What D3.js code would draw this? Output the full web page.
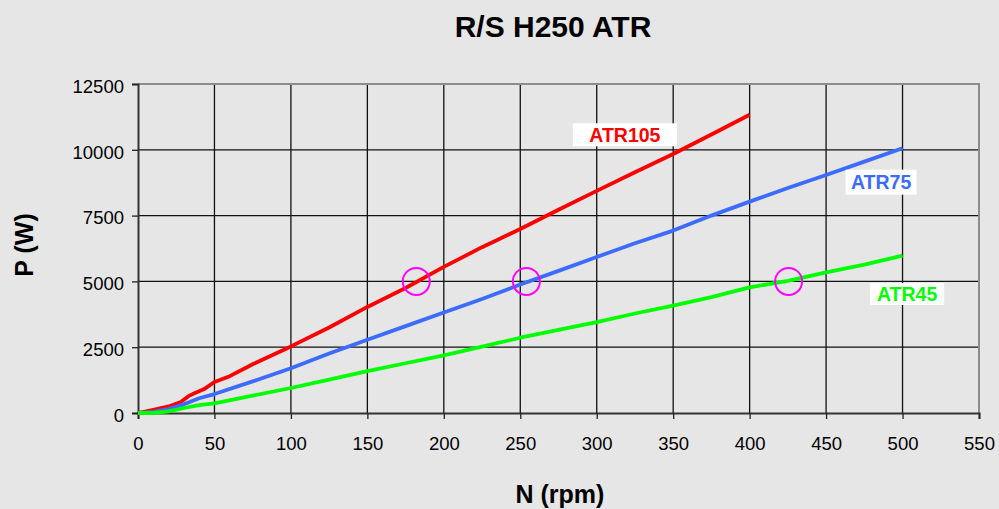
<!DOCTYPE html>
<html>
<head>
<meta charset="utf-8">
<script src="https://cdn.jsdelivr.net/npm/d3@7"></script>
<style>
  html, body { margin: 0; padding: 0; background: #e6e6e6; }
  #chart { width: 999px; height: 509px; }
  text { font-family: "Liberation Sans", Arial, sans-serif; }
</style>
</head>
<body>
<div id="chart"></div>
<script>
//Datos
const rpmTicks = [0, 50, 100, 150, 200, 250, 300, 350, 400, 450, 500, 550];
const powerTicks = [0, 2500, 5000, 7500, 10000, 12500];

const atr105 = [[0, 0], [10, 120], [20, 250], [28, 420], [33, 640], [38, 780], [43, 900], [50, 1180], [60, 1400], [75, 1850], [100, 2530], [125, 3250], [150, 4030], [175, 4750], [200, 5550], [225, 6300], [250, 6990], [275, 7720], [300, 8440], [325, 9150], [350, 9840], [375, 10580], [400, 11330]];
const atr75 = [[0, 0], [10, 40], [20, 150], [30, 330], [40, 560], [50, 720], [75, 1200], [100, 1700], [125, 2260], [150, 2780], [175, 3300], [200, 3820], [225, 4330], [250, 4880], [275, 5400], [300, 5930], [325, 6450], [350, 6930], [375, 7500], [400, 8030], [425, 8550], [450, 9040], [475, 9550], [500, 10060]];
const atr45 = [[0, 0], [10, 0], [20, 60], [30, 190], [40, 300], [50, 370], [75, 660], [100, 950], [125, 1270], [150, 1590], [175, 1890], [200, 2190], [225, 2520], [250, 2860], [275, 3160], [300, 3450], [325, 3780], [350, 4080], [375, 4400], [400, 4775], [425, 5020], [450, 5345], [475, 5640], [500, 5980]];

const seriesNames = ['ATR105', 'ATR75', 'ATR45'];
const seriesData = [atr105, atr75, atr45];

//Puntos marcados a 5000 W
const markRpm = [182, 254, 425.5];
const markPower = [5000, 5000, 5000];

//Colores fijos
const COLOR_105 = '#ff0000',
COLOR_75 = '#3c6cff',
COLOR_45 = '#00ff00',
COLOR_MARK = '#ff00ff';

const colors = [COLOR_105, COLOR_75, COLOR_45];

let margin = {top: 84, left: 138},
    width = 979 - margin.left,
    height = 413 - margin.top;

let svg = d3.select('#chart')
    .append('svg')
        .attr('width', 999)
        .attr('height', 509)
    .append('g')
        .attr('transform', 'translate(' + margin.left + ',' + margin.top + ')');

let x = d3.scaleLinear()
    .domain([0, 550])
    .range([0, width]);

let y = d3.scaleLinear()
    .domain([0, 12500])
    .range([height, 0]);

//Rejilla
svg.append('g')
    .selectAll('line')
    .data(rpmTicks.slice(1, -1))
    .enter()
    .append('line')
    .attr('x1', d => x(d)).attr('x2', d => x(d))
    .attr('y1', 0).attr('y2', height)
    .attr('stroke', '#111').attr('stroke-width', 1.3);

svg.append('g')
    .selectAll('line')
    .data(powerTicks.slice(1, -1))
    .enter()
    .append('line')
    .attr('x1', 0).attr('x2', width)
    .attr('y1', d => y(d)).attr('y2', d => y(d))
    .attr('stroke', '#111').attr('stroke-width', 1.3);

//Borde superior y derecho
svg.append('path')
    .attr('d', 'M0,' + y(12500) + 'H' + x(550) + 'V' + y(0))
    .attr('fill', 'none')
    .attr('stroke', '#8c8c8c')
    .attr('stroke-width', 2);

//Ejes
let xAxis = svg.append('g')
    .attr('transform', 'translate(0,' + height + ')')
    .call(d3.axisBottom(x).tickValues(rpmTicks).tickSize(6).tickPadding(18).tickFormat(d3.format('d')));

let yAxis = svg.append('g')
    .call(d3.axisLeft(y).tickValues(powerTicks).tickSize(6).tickPadding(8).tickFormat(d3.format('d')));

[xAxis, yAxis].forEach(function(a) {
    a.select('.domain').attr('stroke', '#333').attr('stroke-width', 2);
    a.selectAll('.tick line').attr('stroke', '#222').attr('stroke-width', 1.3);
    a.selectAll('.tick text').attr('fill', '#000').style('font-size', '18.5px');
});
yAxis.selectAll('.tick text').attr('dy', '0.45em');

//Curvas
let line = d3.line()
    .x(d => x(d[0]))
    .y(d => y(d[1]))
    .curve(d3.curveLinear);

svg.append('g')
    .selectAll('path')
    .data(seriesData)
    .enter()
    .append('path')
    .attr('d', d => line(d))
    .attr('fill', 'none')
    .attr('stroke', (d, i) => colors[i])
    .attr('stroke-width', 3.8)
    .attr('stroke-linejoin', 'round');

//Círculos
svg.append('g')
    .selectAll('circle')
    .data(markRpm)
    .enter()
    .append('circle')
    .attr('cx', d => x(d))
    .attr('cy', (d, i) => y(markPower[i]))
    .attr('r', 13.5)
    .attr('fill', 'none')
    .attr('stroke', COLOR_MARK)
    .attr('stroke-width', 2);

//Etiquetas de las series
let labelPos = [[318.4, 10570, 104, 23], [486, 8770, 71, 25], [503, 4520, 74, 22]];

let labels = svg.append('g')
    .selectAll('g')
    .data(seriesNames)
    .enter()
    .append('g')
    .attr('transform', (d, i) => 'translate(' + x(labelPos[i][0]) + ',' + y(labelPos[i][1]) + ')');

labels.append('rect')
    .attr('x', (d, i) => -labelPos[i][2] / 2)
    .attr('y', (d, i) => -labelPos[i][3] / 2)
    .attr('width', (d, i) => labelPos[i][2])
    .attr('height', (d, i) => labelPos[i][3])
    .attr('fill', '#fff');

labels.append('text')
    .attr('text-anchor', 'middle')
    .attr('dy', '0.36em')
    .attr('fill', (d, i) => colors[i])
    .style('font-size', '19.5px')
    .style('font-weight', 'bold')
    .text(d => d);

//Títulos
let root = d3.select('#chart svg');

root.append('text')
    .attr('x', 553)
    .attr('y', 37)
    .attr('text-anchor', 'middle')
    .style('font-size', '30px')
    .style('font-weight', 'bold')
    .text('R/S H250 ATR');

root.append('text')
    .attr('x', 560)
    .attr('y', 503)
    .attr('text-anchor', 'middle')
    .style('font-size', '25px')
    .style('font-weight', 'bold')
    .text('N (rpm)');

root.append('text')
    .attr('transform', 'translate(33,245) rotate(-90)')
    .attr('text-anchor', 'middle')
    .style('font-size', '25px')
    .style('font-weight', 'bold')
    .text('P (W)');
</script>
</body>
</html>
